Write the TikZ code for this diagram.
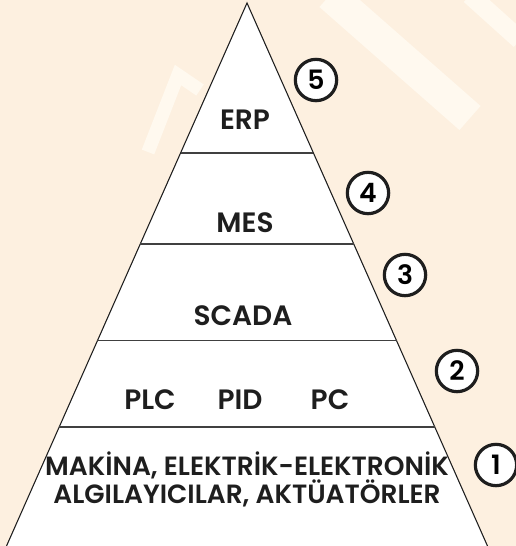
\documentclass[tikz,border=0pt]{standalone}
\usepackage{fontspec}
\setmainfont{Poppins}[UprightFont=* Medium]
\newfontfamily\markfont{Poppins}[UprightFont=* SemiBold]
\usepackage{tikz}
\usetikzlibrary{positioning, calc}
\definecolor{peach}{RGB}{253,240,224}
\definecolor{peachpale}{RGB}{255,249,239}
\definecolor{ink}{RGB}{30,30,30}
\tikzset{
        layer text/.style={
		font=\markfont\fontsize{21}{21}\selectfont,
		text=ink,
		align=center,
	  },
  		level mark/.style={
		circle,
		draw=ink,
		line width=2.4pt,
		fill=white,
		minimum size=31pt,
		inner sep=0pt,
		font=\markfont\fontsize{20}{20}\selectfont,
      },
		cut line/.style={
		draw=ink!85,
		line width=1.1pt,
	  },
		water/.style={
		draw=peachpale,
		line width=#1,
	  },
  	}

\begin{document}
\begin{tikzpicture}[x=0.75pt, y=-0.75pt]
    % background
    \fill [peach] (0,0) rectangle (516,546);
    \useasboundingbox (0,0) rectangle (516,546);
    \begin{scope}
    \clip (0,0) rectangle (516,546);
    \draw [water=24pt] (330,-5) -- (470,118);
    \draw [water=14pt] (470,-5) -- (520,40);
    \draw [water=10pt] (148,152) -- (178,75) -- (200,90);
    \coordinate (top) at (247,3);
    \coordinate (baseW) at (6.5,546);
    \coordinate (baseE) at (487.5,546);
    \filldraw [fill=white, draw=ink, line width=0.8pt] (baseW) -- (top) -- (baseE);
    \end{scope}
    % layer borders
    \foreach \f/\n in {0.276/a, 0.444/b, 0.622/c, 0.781/d} {
      \coordinate (cut\n W) at ($(top)!\f!(baseW)$);
      \coordinate (cut\n E) at ($(top)!\f!(baseE)$);
      \draw [cut line] (cut\n W) -- (cut\n E);
    }
    % layer labels
    \node [layer text] (erp) at (245,120) {ERP};
    \node [layer text] (mes) at (245,223) {MES};
    \node [layer text] (scada) at (243,316) {SCADA};
    \node [layer text] (pid) at (240,400) {PID};
    \node [layer text] (plc) at (150,400) {PLC};
    \node [layer text] (pc) at (330,400) {PC};
    \node [layer text, font=\markfont\fontsize{19.8}{21}\selectfont] (field) at (247,479) {MAKİNA, ELEKTRİK-ELEKTRONİK\\ALGILAYICILAR, AKTÜATÖRLER};
    % level numbers
    \node [level mark] (n5) at (316,80) {5};
    \node [level mark] (n4) at (368,193) {4};
    \node [level mark] (n3) at (405,275) {3};
    \node [level mark] (n2) at (457,371) {2};
    \node [level mark] (n1) at (496,465) {1};
  \end{tikzpicture}
\end{document}
